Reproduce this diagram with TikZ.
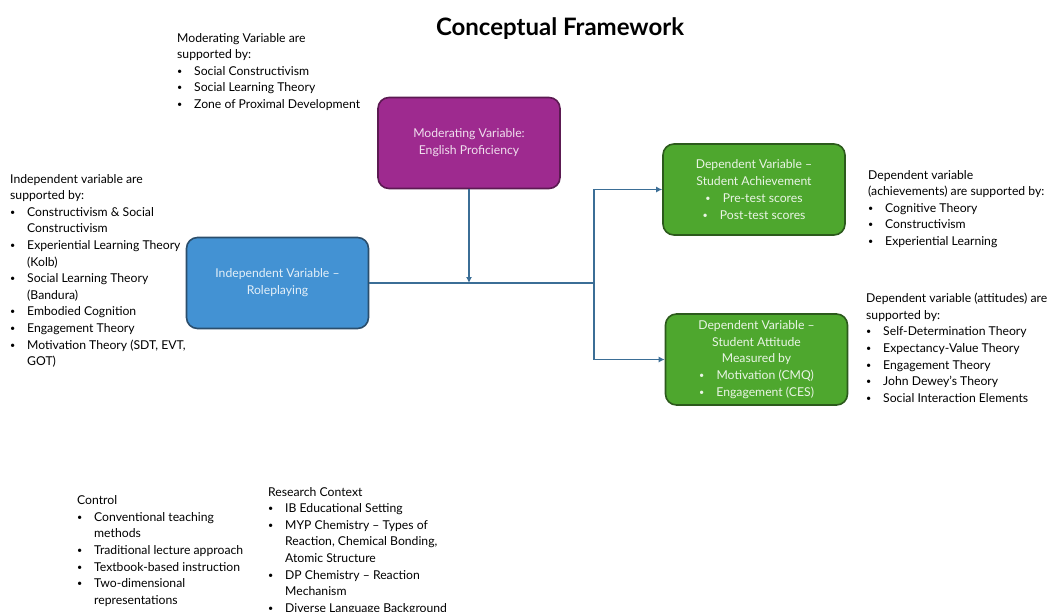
\documentclass[tikz,border=0pt]{standalone}
\usepackage{fontspec}
\setmainfont{Lato}
\usepackage{xcolor}
\usetikzlibrary{arrows.meta,positioning,calc}

\definecolor{modfill}{HTML}{9E2A8F}
\definecolor{moddraw}{HTML}{5C1A52}
\definecolor{indfill}{HTML}{4392D3}
\definecolor{inddraw}{HTML}{2B4E6C}
\definecolor{depfill}{HTML}{4EA72E}
\definecolor{depdraw}{HTML}{2C5A1C}
\definecolor{linkcol}{HTML}{3B6E96}

\newcommand{\dotmark}{\raisebox{1pt}{\fontsize{9}{9}\selectfont\textbullet}}
\newcommand{\bl}{\makebox[17pt][l]{\dotmark}}
\newcommand{\ind}{\hspace*{17pt}}

\begin{document}
\begin{tikzpicture}[x=1pt,y=-1pt,>={Latex[length=6pt,width=6pt]},
  txt/.style={font=\fontsize{12.2}{16.6}\selectfont,align=left,anchor=north west,inner sep=0pt},
  varbox/.style={rounded corners=11pt,line width=1.6pt,minimum width=182pt,minimum height=91pt,
    align=center,font=\fontsize{12.2}{16.8}\selectfont,inner sep=2pt},
  link/.style={linkcol,line width=1.4pt}]
\useasboundingbox[fill=white] (0,0) rectangle (1055,611);

\node[font=\bfseries\fontsize{24}{26}\selectfont] (title) at (560,29) {Conceptual Framework};

% variable boxes
\node[varbox,fill=modfill,draw=moddraw,text=white!85!modfill] (mod) at (469,143)
 {Moderating Variable:\\ English Proficiency};
\node[varbox,fill=indfill,draw=inddraw,text=white!85!indfill] (indep) at (277.5,283)
 {Independent Variable --\\ Roleplaying};
\node[varbox,fill=depfill,draw=depdraw,text=white!88!depfill] (ach) at (754,189.5)
 {Dependent Variable --\\ Student Achievement\\ \dotmark\quad Pre-test scores\\ \dotmark\quad Post-test scores};
\node[varbox,fill=depfill,draw=depdraw,text=white!88!depfill] (att) at (756.5,359.5)
 {Dependent Variable --\\ Student Attitude\\ Measured by\\ \dotmark\quad Motivation (CMQ)\\ \dotmark\quad Engagement (CES)};

% connectors
\coordinate (split) at (594,283);
\draw[link] (indep.east) -- (split);
\draw[link,->] (split) |- (ach.west);
\draw[link,->] (split) |- (att.west);
\draw[link,->] (mod.south) -- (mod.south |- indep.east);

% supporting theories
\node[txt] (modsup) at (177,33)
 {Moderating Variable are\\ supported by:\\
  \bl Social Constructivism\\ \bl Social Learning Theory\\ \bl Zone of Proximal Development};
\node[txt] (indsup) at (10,174)
 {Independent variable are\\ supported by:\\
  \bl Constructivism \& Social\\ \ind Constructivism\\
  \bl Experiential Learning Theory\\ \ind (Kolb)\\
  \bl Social Learning Theory\\ \ind (Bandura)\\
  \bl Embodied Cognition\\ \bl Engagement Theory\\
  \bl Motivation Theory (SDT, EVT,\\ \ind GOT)};
\node[txt] (achsup) at (868,170)
 {Dependent variable\\ (achievements) are supported by:\\
  \bl Cognitive Theory\\ \bl Constructivism\\ \bl Experiential Learning};
\node[txt] (attsup) at (866,293)
 {Dependent variable (attitudes) are\\ supported by:\\
  \bl Self-Determination Theory\\ \bl Expectancy-Value Theory\\ \bl Engagement Theory\\
  \bl John Dewey's Theory\\ \bl Social Interaction Elements};

% control and context
\node[txt] (ctrl) at (77,495.5)
 {Control\\
  \bl Conventional teaching\\ \ind methods\\
  \bl Traditional lecture approach\\ \bl Textbook-based instruction\\
  \bl Two-dimensional\\ \ind representations};
\node[txt] (ctx) at (268,487)
 {Research Context\\
  \bl IB Educational Setting\\
  \bl MYP Chemistry -- Types of\\ \ind Reaction, Chemical Bonding,\\ \ind Atomic Structure\\
  \bl DP Chemistry -- Reaction\\ \ind Mechanism\\
  \bl Diverse Language Background};
\end{tikzpicture}
\end{document}
